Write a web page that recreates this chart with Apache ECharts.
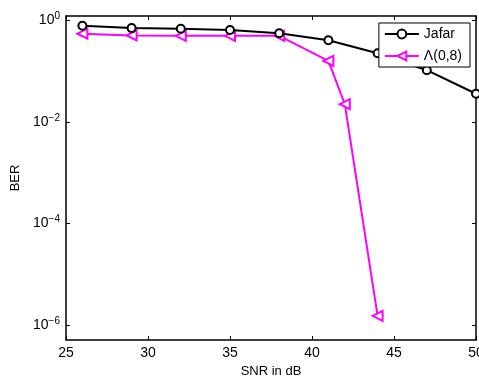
<!DOCTYPE html>
<html><head><meta charset="utf-8">
<script src="https://cdn.jsdelivr.net/npm/echarts@6/dist/echarts.min.js"></script>
<style>html,body{margin:0;padding:0;background:#fff}#c{width:479px;height:379px}</style>
</head><body><div id="c"></div>
<script>
const jafarSNR = [26, 29, 32, 35, 38, 41, 44, 47, 50];
const jafarBER = [0.79, 0.71, 0.69, 0.65, 0.56, 0.41, 0.226, 0.105, 0.036];
const lamSNR = [26, 29, 32, 35, 38, 41, 42, 44];
const lamBER = [0.55, 0.51, 0.50, 0.50, 0.50, 0.16, 0.0224, 1.5e-6];
const xTicks = [25, 30, 35, 40, 45, 50];
const yTicks = [1, 1e-2, 1e-4, 1e-6];
const seriesNames = ['Jafar', '\u039b(0,8)'];

const font = 'Liberation Sans, Arial, Helvetica, sans-serif';
const chart = echarts.init(document.getElementById('c'));
const yMin = Math.pow(10, -6.3), yMax = Math.pow(10, 0.09);
function supFmt(v) {
  const e = Math.round(Math.log10(v));
  return '10{s|' + (e < 0 ? '\u2212' + (-e) : e) + '}';
}
chart.setOption({
  animation: false,
  backgroundColor: '#fff',
  grid: { left: 66, right: 3, top: 16, bottom: 39, containLabel: false, outerBoundsMode: 'none' },
  legend: {
    orient: 'vertical', right: 9, top: 23,
    data: seriesNames,
    backgroundColor: '#fff', borderColor: '#000', borderWidth: 1,
    padding: [4, 8, 4, 5], itemGap: 8, itemWidth: 34, itemHeight: 11,
    textStyle: { fontFamily: font, fontSize: 14, color: '#000' }
  },
  xAxis: [{
    type: 'value', min: 25, max: 50,
    name: 'SNR in dB', nameLocation: 'middle', nameGap: 23,
    nameTextStyle: { fontFamily: font, fontSize: 13, color: '#000' },
    axisLine: { lineStyle: { color: '#000', width: 1.5 } },
    axisTick: { inside: true, length: 4, customValues: xTicks, lineStyle: { color: '#000' } },
    axisLabel: { customValues: xTicks, fontFamily: font, fontSize: 14, color: '#000', margin: 6 },
    splitLine: { show: false }
  }, {
    type: 'value', min: 25, max: 50, position: 'top',
    axisLine: { lineStyle: { color: '#000', width: 1.5 } },
    axisTick: { inside: true, length: 4, customValues: xTicks, lineStyle: { color: '#000' } },
    axisLabel: { show: false }, splitLine: { show: false }
  }],
  yAxis: [{
    type: 'log', min: yMin, max: yMax,
    name: 'BER', nameLocation: 'middle', nameGap: 42,
    nameTextStyle: { fontFamily: font, fontSize: 13, color: '#000' },
    axisLine: { lineStyle: { color: '#000', width: 1.5 } },
    axisTick: { inside: true, length: 4, customValues: yTicks, lineStyle: { color: '#000' } },
    axisLabel: {
      customValues: yTicks, formatter: supFmt, margin: 6,
      fontFamily: font, fontSize: 14, color: '#000',
      rich: { s: { fontFamily: font, fontSize: 10, color: '#000', verticalAlign: 'bottom', padding: [0, 0, 8, 0] } }
    },
    splitLine: { show: false }, minorTick: { show: false }
  }, {
    type: 'log', min: yMin, max: yMax, position: 'right',
    axisLine: { lineStyle: { color: '#000', width: 1.5 } },
    axisTick: { inside: true, length: 4, customValues: yTicks, lineStyle: { color: '#000' } },
    axisLabel: { show: false }, splitLine: { show: false }
  }],
  series: [{
    name: seriesNames[0], type: 'line',
    data: jafarSNR.map((x, i) => [x, jafarBER[i]]),
    symbol: 'circle', symbolSize: 8, showAllSymbol: true,
    lineStyle: { color: '#000', width: 2 },
    itemStyle: { color: '#fff', borderColor: '#000', borderWidth: 2 }, z: 3
  }, {
    name: seriesNames[1], type: 'line',
    data: lamSNR.map((x, i) => [x, lamBER[i]]),
    symbol: 'triangle', symbolRotate: 90, symbolSize: 10, showAllSymbol: true,
    lineStyle: { color: '#ff00ff', width: 2 },
    itemStyle: { color: '#fff', borderColor: '#ff00ff', borderWidth: 2 }, z: 2
  }]
});
</script></body></html>
